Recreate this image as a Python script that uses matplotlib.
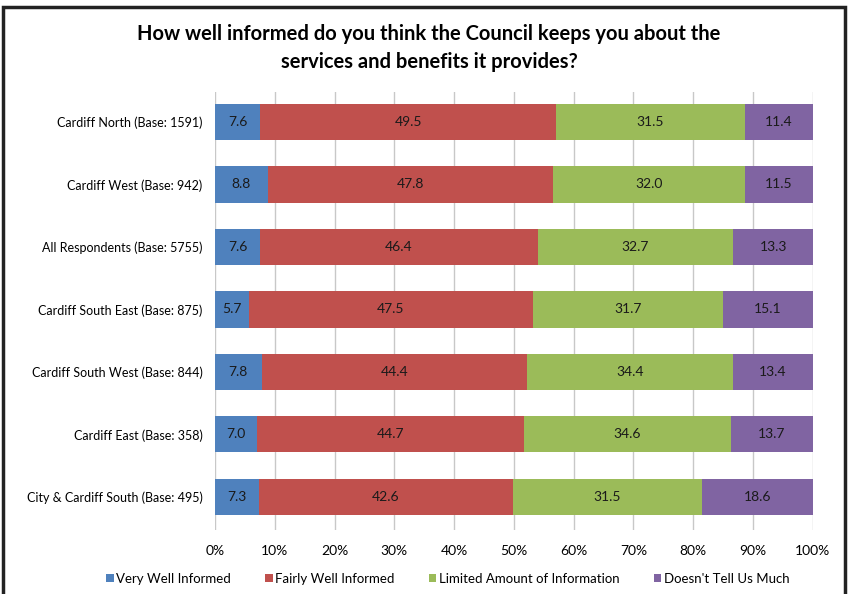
import matplotlib
matplotlib.use("Agg")
import matplotlib.pyplot as plt
from matplotlib.patches import Rectangle
import numpy as np

plt.rcParams['font.family'] = ['Lato', 'DejaVu Sans']

categories = [
    "Cardiff North (Base: 1591)",
    "Cardiff West (Base: 942)",
    "All Respondents (Base: 5755)",
    "Cardiff South East (Base: 875)",
    "Cardiff South West (Base: 844)",
    "Cardiff East (Base: 358)",
    "City & Cardiff South (Base: 495)",
]
very_well = [7.6, 8.8, 7.6, 5.7, 7.8, 7.0, 7.3]
fairly_well = [49.5, 47.8, 46.4, 47.5, 44.4, 44.7, 42.6]
limited = [31.5, 32.0, 32.7, 31.7, 34.4, 34.6, 31.5]
doesnt_tell = [11.4, 11.5, 13.3, 15.1, 13.4, 13.7, 18.6]
series_names = ["Very Well Informed", "Fairly Well Informed",
                "Limited Amount of Information", "Doesn't Tell Us Much"]
colors = ["#4F81BD", "#C0504D", "#9BBB59", "#8064A2"]
title = "How well informed do you think the Council keeps you about the\nservices and benefits it provides?"

fig = plt.figure(figsize=(8.48, 5.94), dpi=100)
ax = fig.add_axes([0.2535, 0.108, 0.705, 0.737])

series = [very_well, fairly_well, limited, doesnt_tell]
y = np.arange(len(categories))
left = np.zeros(len(categories))
for vals, name, c in zip(series, series_names, colors):
    vals = np.array(vals)
    ax.barh(y, vals, left=left, height=0.58, color=c, label=name, zorder=3)
    for yi, l, v in zip(y, left, vals):
        ax.text(l + v / 2, yi, f"{v:.1f}", ha='center', va='center',
                fontsize=10, color='#1a1a1a', zorder=4)
    left = left + vals

ax.set_xlim(0, 100)
ax.set_ylim(len(categories) - 0.47, -0.48)
ax.set_yticks(y)
ax.set_yticklabels(categories, fontsize=9)
ax.set_xticks(np.arange(0, 101, 10))
ax.set_xticklabels([f"{t}%" for t in range(0, 101, 10)], fontsize=10)
ax.tick_params(axis='y', length=0, pad=9)
ax.tick_params(axis='x', length=0, pad=11)
ax.grid(axis='x', color='#c8c8c8', linewidth=1, zorder=0)
for s in ax.spines.values():
    s.set_visible(False)

fig.text(0.506, 0.919, title, ha='center', va='center', fontsize=14.5,
         fontweight='bold', linespacing=1.5)

handles, labels = ax.get_legend_handles_labels()
fig.legend(handles, labels, loc='center', bbox_to_anchor=(0.528, 0.026), ncol=4,
           frameon=False, fontsize=9.5, handlelength=0.55, handleheight=0.6,
           handletextpad=0.2, columnspacing=2.6)

fig.patches.append(Rectangle((0.004, -0.01), 0.992, 0.998, transform=fig.transFigure,
                             fill=False, edgecolor='#222222', linewidth=2.5))

fig.savefig("out.png", dpi=100)
